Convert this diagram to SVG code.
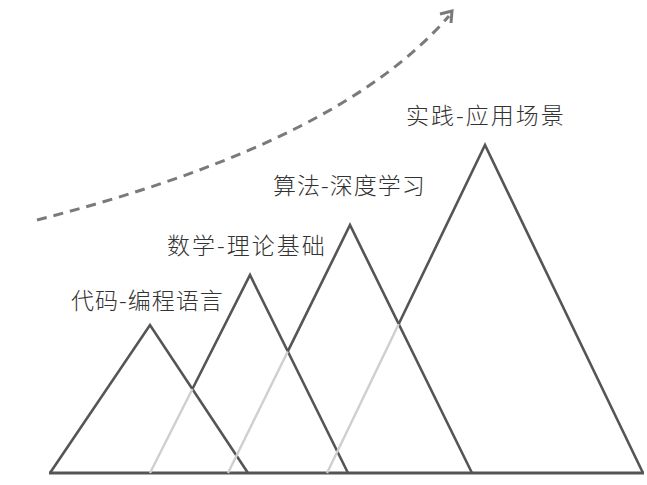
<svg xmlns="http://www.w3.org/2000/svg" width="647" height="485" viewBox="0 0 647 485">
<style>
.dark{fill:none;stroke:#555;stroke-width:2.6;stroke-linejoin:miter;stroke-linecap:butt}
.gray{fill:none;stroke:#cfcfcf;stroke-width:2.4}
.lbl{font-family:"Noto Sans CJK SC","Noto Sans",sans-serif;font-size:23px;fill:#333;font-weight:300}
.trend{fill:none;stroke:#7a7a7a;stroke-width:3;stroke-dasharray:10 7}
</style>
<rect width="647" height="485" fill="#fff"/>
<g id="connectors">
<path class="trend" d="M37,220 C200,178 360,118 449,16"/>
<path d="M440,14 L452,11 L451,23" fill="none" stroke="#7a7a7a" stroke-width="3"/>
</g>
<g id="baseline">
<line x1="49" y1="473" x2="644" y2="473" stroke="#555" stroke-width="3"/>
</g>
<g id="node-code">
<path class="dark" d="M50,473 L150,325 L248,473"/>
<text class="lbl" x="71" y="309" letter-spacing="1">代码-编程语言</text>
</g>
<g id="node-math">
<path class="gray" d="M192.4,389 L150,473"/>
<path class="dark" d="M192.4,389 L250,275 L348,473"/>
<text class="lbl" x="167" y="254" letter-spacing="2">数学-理论基础</text>
</g>
<g id="node-algo">
<path class="gray" d="M287.8,351.4 L228,473"/>
<path class="dark" d="M287.8,351.4 L350,225 L472,473"/>
<text class="lbl" x="273" y="194" letter-spacing="1">算法-深度学习</text>
</g>
<g id="node-practice">
<path class="gray" d="M398.7,324 L327,473"/>
<path class="dark" d="M398.7,324 L485,145 L643,473"/>
<text class="lbl" x="406" y="124" letter-spacing="2">实践-应用场景</text>
</g>
</svg>
